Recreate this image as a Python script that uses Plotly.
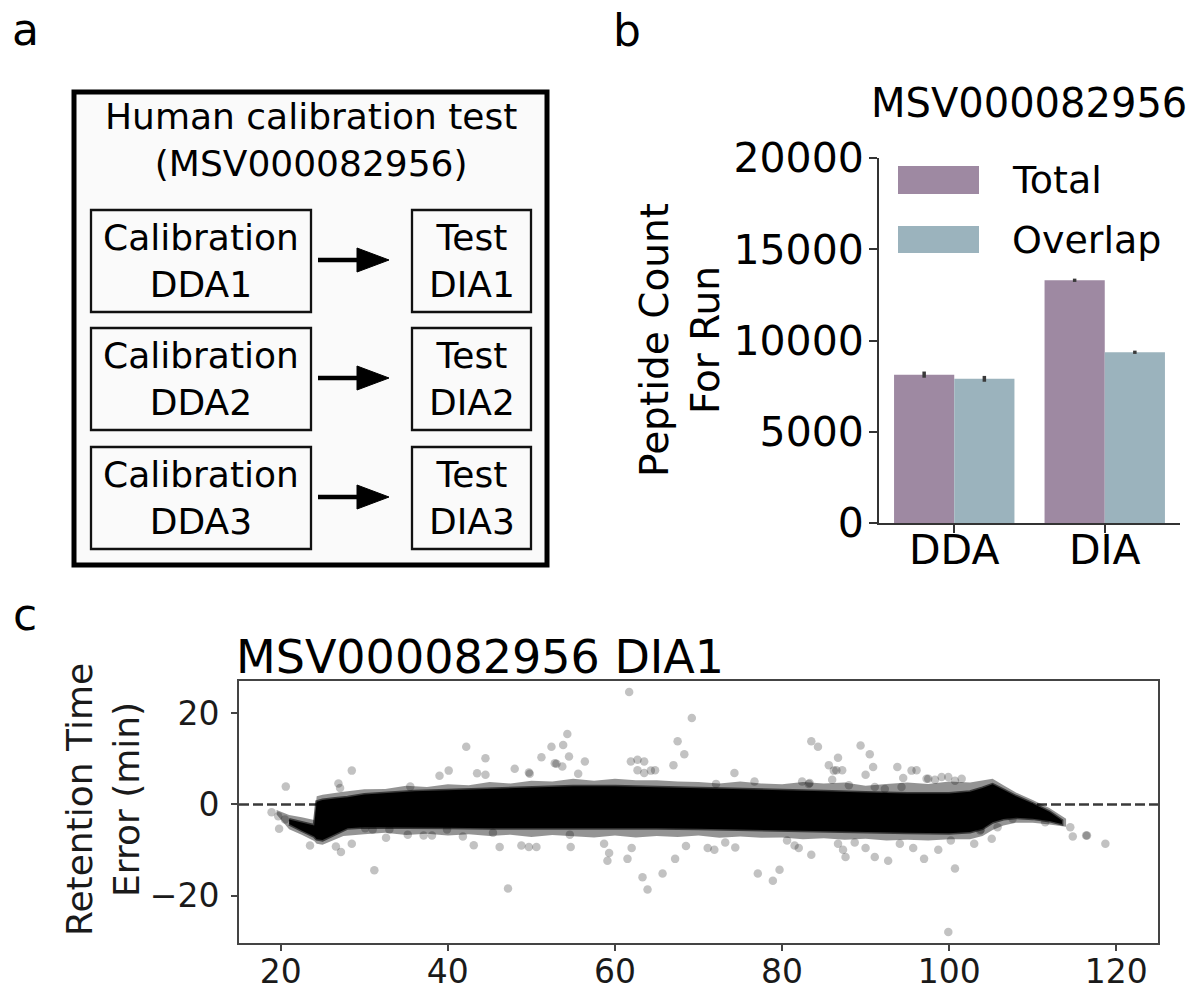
import plotly.graph_objects as go

W, H = 1198, 989
FONT = "DejaVu Sans"


def fx(p):
    return p / W


def fy(p):
    return 1 - p / H


# ---------------- data: panel b ----------------
categories = ["DDA", "DIA"]
total_counts = [8130, 13300]
total_err = [170, 90]
overlap_counts = [7900, 9355]
overlap_err = [160, 90]
y_ticks_b = [0, 5000, 10000, 15000, 20000]

# ---------------- data: panel c ----------------
x_ticks_c = [20, 40, 60, 80, 100, 120]
y_ticks_c = [-20, 0, 20]
y_ticklabels_c = ["\u221220", "0", "20"]
zero_ref = 0

# dense core of the point cloud (upper / lower envelope)
core_x = [21.0, 22.5, 24.0, 24.3, 25.0, 26.5, 28.0, 30.0, 33.0, 36.0, 40.0, 45.0, 50.0, 55.0,
          60.0, 65.0, 70.0, 75.0, 80.0, 85.0, 90.0, 95.0, 100.0, 102.5, 104.0, 105.2, 106.5,
          108.0, 110.0, 112.0, 113.5]
core_hi = [-3.3, -3.9, -4.6, 0.6, 1.0, 1.3, 1.6, 2.2, 2.6, 2.9, 3.1, 3.4, 3.8, 4.0,
           4.0, 3.8, 3.6, 3.4, 3.1, 2.9, 2.6, 2.4, 2.4, 2.8, 3.6, 4.4, 3.2,
           1.8, 0.2, -1.6, -3.5]
core_lo = [-4.3, -5.7, -7.0, -7.6, -7.8, -6.5, -5.2, -5.0, -5.0, -5.0, -5.1, -5.2, -5.3, -5.3,
           -5.2, -5.2, -5.3, -5.4, -5.6, -5.8, -6.0, -6.2, -6.3, -6.0, -5.3, -3.9, -3.2,
           -2.9, -3.1, -3.6, -4.3]

# semi-transparent, ragged fringe around the core
halo_x = [19.5, 21.0, 22.5, 24.0, 24.3, 25.0, 27.5, 30.0, 32.5, 35.0, 37.5, 40.0, 42.5, 45.0,
          47.5, 50.0, 52.5, 55.0, 57.5, 60.0, 62.5, 65.0, 67.5, 70.0, 72.5, 75.0, 77.5, 80.0,
          82.5, 85.0, 87.5, 90.0, 92.5, 95.0, 97.5, 100.0, 102.5, 104.0, 105.2, 106.5, 108.0,
          110.0, 112.0, 114.0]
halo_hi = [-1.2, -2.3, -2.8, -3.4, 1.8, 2.1, 2.8, 3.3, 3.4, 4.1, 3.8, 4.4, 4.2, 4.9,
           4.6, 5.2, 5.0, 5.6, 5.2, 5.6, 5.3, 5.3, 5.0, 4.9, 4.6, 5.0, 4.6, 4.4,
           4.9, 4.6, 4.8, 4.1, 4.5, 4.8, 4.5, 5.0, 4.8, 5.2, 5.6, 4.2, 2.6,
           1.0, -0.8, -3.1]
halo_lo = [-2.2, -5.4, -6.6, -8.0, -8.6, -8.8, -6.9, -6.5, -6.2, -6.7, -6.4, -6.8, -6.5, -6.9,
           -6.6, -7.1, -6.7, -6.9, -7.2, -6.8, -7.2, -6.9, -7.1, -6.8, -7.3, -7.0, -7.3, -7.2,
           -7.6, -7.4, -7.7, -7.5, -7.9, -7.7, -7.9, -7.6, -7.6, -6.9, -5.6, -4.6, -4.0,
           -4.0, -4.4, -4.9]

# isolated points
outlier_x = [18.9, 19.7, 20.5, 19.8, 20.6, 23.5, 26.6, 27.2, 28.5, 26.9, 27.1, 28.5, 30.1, 31.0,
             31.2, 32.6, 33.0, 35.2, 35.5, 37.1, 38.1, 39.0, 39.9, 40.1, 41.8, 42.2, 43.1, 43.5,
             44.5, 44.5, 45.4, 46.2, 47.2, 48.0, 48.8, 49.7, 49.7, 49.8, 50.6, 51.2, 52.4, 52.8,
             53.0, 53.7, 53.8, 54.3, 54.5, 54.6, 54.7, 55.6, 56.4,
             58.7, 59.1, 59.3, 61.5, 61.7, 61.9, 62.0, 62.7, 62.7, 63.3, 63.5, 63.5, 63.9, 64.3,
             64.8, 65.7, 67.0, 67.2, 67.5, 68.3, 68.5, 69.2, 71.1, 71.9, 72.1, 73.2, 74.3, 74.4,
             76.7, 77.1, 78.9, 79.7, 80.6, 81.5, 82.0, 82.4, 83.2, 83.3, 83.5, 83.5, 84.3, 85.6,
             86.0, 86.2, 86.5, 86.7, 86.7, 87.2, 87.3, 87.6, 88.0, 88.7, 89.4, 90.0, 90.0, 90.5,
             90.9, 91.1, 91.1, 92.3, 92.7, 93.8, 94.1, 94.3, 94.5, 95.5, 95.7, 96.1, 97.0, 97.3,
             97.5, 98.3, 98.7, 99.1, 99.9, 99.9, 100.2, 100.7, 100.7, 101.5, 103.0, 103.7, 103.8,
             105.1, 105.8, 107.6, 111.5, 114.5, 114.8, 116.4, 116.5, 118.7]
outlier_y = [-1.7, -2.6, -3.3, -5.3, 3.9, -9.0, -9.2, -10.4, -8.6, 4.6, 3.6, 7.4, -5.2, -5.5,
             -14.4, -7.3, -5.5, -6.6, 3.9, -6.8, -6.8, 6.3, -5.5, 7.4, -7.0, 12.6, -8.9, 6.8,
             6.5, 10.1, -6.2, -9.3, -18.4, 7.8, -9.0, 7.0, -9.3, 6.7, -9.3, 10.3, 12.6, 9.0,
             8.9, 8.3, 13.0, 15.4, 10.5, -6.6, -9.3, 6.7, 9.4,
             -8.6, -12.3, -10.6, -11.9, 24.6, 9.4, -9.5, 9.8, 7.5, -15.9, 9.4, 6.9, -18.6, 7.4,
             7.5, -15.1, 8.6, -11.9, 13.8, 11.0, -9.1, 18.9, -9.5, -9.9, 4.5, -8.3, 6.9, -9.4,
             5.0, -15.1, -16.7, -14.3, -7.9, -9.0, -9.5, 5.0, 4.5, 4.7, 13.8, -11.0, 12.6, 8.6,
             5.4, 7.4, 7.5, 10.2, -8.6, 7.5, -9.9, -11.5, 4.2, -8.3, 12.9, 6.5, -9.5, 11.0,
             8.2, -11.5, 3.8, 3.4, -12.3, 8.2, -8.6, 3.8, 5.8, 7.4, -9.5, 7.5, -11.9, 5.6,
             5.6, 5.4, -9.9, 6.0, 6.0, -27.9, -7.9, 5.2, -14.0, 5.6, -8.6, -5.7, -5.5,
             -7.5, -5.0, -3.1, -3.9, -5.0, -7.0, -6.8, -6.8, -8.6]

TOTAL_C = "#9e89a2"
OVERLAP_C = "#9bb3bd"

fig = go.Figure()

# ---------------- panel b bars ----------------
fig.add_trace(go.Bar(
    x=categories, y=total_counts, name="Total", marker=dict(color=TOTAL_C, line=dict(width=0)),
    error_y=dict(type="data", array=total_err, color="#3a3a3a", thickness=3.5, width=0),
    xaxis="x", yaxis="y", showlegend=False))
fig.add_trace(go.Bar(
    x=categories, y=overlap_counts, name="Overlap", marker=dict(color=OVERLAP_C, line=dict(width=0)),
    error_y=dict(type="data", array=overlap_err, color="#3a3a3a", thickness=3.5, width=0),
    xaxis="x", yaxis="y", showlegend=False))

# ---------------- panel c scatter ----------------
fig.add_trace(go.Scatter(
    x=outlier_x, y=outlier_y, mode="markers",
    marker=dict(color="rgba(0,0,0,0.24)", size=8.5, line=dict(width=0)),
    xaxis="x2", yaxis="y2", showlegend=False, hoverinfo="skip"))
fig.add_trace(go.Scatter(
    x=halo_x + halo_x[::-1], y=halo_hi + halo_lo[::-1], mode="lines", fill="toself",
    fillcolor="rgba(0,0,0,0.42)", line=dict(width=0, color="rgba(0,0,0,0)"),
    xaxis="x2", yaxis="y2", showlegend=False, hoverinfo="skip"))
fig.add_trace(go.Scatter(
    x=core_x + core_x[::-1], y=core_hi + core_lo[::-1], mode="lines", fill="toself",
    fillcolor="rgba(0,0,0,1)", line=dict(width=3, color="rgba(0,0,0,0.6)"),
    xaxis="x2", yaxis="y2", showlegend=False, hoverinfo="skip"))

shapes = []
annotations = []

# zero reference line in panel c
shapes.append(dict(type="line", xref="x2 domain", yref="y2", x0=0, x1=1, y0=zero_ref, y1=zero_ref,
                   line=dict(color="#3a3a3a", width=2.5, dash="10px,4px"), layer="below"))

# ---------------- panel a diagram ----------------
shapes.append(dict(type="rect", xref="paper", yref="paper",
                   x0=fx(74), x1=fx(547), y0=fy(92), y1=fy(565),
                   line=dict(color="black", width=5), fillcolor="#fafafa", layer="below"))

row_tops = [210, 328, 447]
row_h = 102
for i, top in enumerate(row_tops):
    n = i + 1
    for (x0, x1) in [(91, 311), (412, 531)]:
        shapes.append(dict(type="rect", xref="paper", yref="paper",
                           x0=fx(x0), x1=fx(x1), y0=fy(top), y1=fy(top + row_h),
                           line=dict(color="#111111", width=2.3), fillcolor="#fafafa", layer="below"))
    annotations.append(dict(x=fx(201), y=fy(top + row_h / 2), xref="paper", yref="paper",
                            text=f"Calibration<br>DDA{n}", showarrow=False, xanchor="center",
                            yanchor="middle", font=dict(family=FONT, size=36, color="black")))
    annotations.append(dict(x=fx(471.5), y=fy(top + row_h / 2), xref="paper", yref="paper",
                            text=f"Test<br>DIA{n}", showarrow=False, xanchor="center",
                            yanchor="middle", font=dict(family=FONT, size=36, color="black")))
    ay = top + 50
    shapes.append(dict(type="line", xref="paper", yref="paper",
                       x0=fx(318), x1=fx(362), y0=fy(ay), y1=fy(ay),
                       line=dict(color="black", width=4.5)))
    shapes.append(dict(type="path", xref="paper", yref="paper",
                       path=f"M {fx(357)},{fy(ay - 12)} L {fx(389)},{fy(ay)} L {fx(357)},{fy(ay + 12)} Z",
                       fillcolor="black", line=dict(color="black", width=1)))

annotations.append(dict(x=fx(310.5), y=fy(140.5), xref="paper", yref="paper",
                        text="Human calibration test<br>(MSV000082956)", showarrow=False,
                        xanchor="center", yanchor="middle",
                        font=dict(family=FONT, size=36, color="black")))

# panel letters
for letter, (lx, ly) in {"a": (25, 29), "b": (627, 31), "c": (25, 614)}.items():
    annotations.append(dict(x=fx(lx), y=fy(ly), xref="paper", yref="paper", text=letter,
                            showarrow=False, xanchor="center", yanchor="middle",
                            font=dict(family=FONT, size=44, color="black")))

# ---------------- panel b titles / legend ----------------
annotations.append(dict(x=fx(1029), y=fy(103), xref="paper", yref="paper", text="MSV000082956",
                        showarrow=False, xanchor="center", yanchor="middle",
                        font=dict(family=FONT, size=40, color="black")))
annotations.append(dict(x=fx(680), y=fy(340), xref="paper", yref="paper",
                        text="Peptide Count<br>For Run", textangle=-90, showarrow=False,
                        xanchor="center", yanchor="middle",
                        font=dict(family=FONT, size=39, color="black")))
for name, col, (t, b) in [("Total", TOTAL_C, (166, 194)), ("Overlap", OVERLAP_C, (226, 253))]:
    shapes.append(dict(type="rect", xref="paper", yref="paper", x0=fx(898), x1=fx(979),
                       y0=fy(t), y1=fy(b), fillcolor=col, line=dict(width=0)))
    annotations.append(dict(x=fx(1010), y=fy((t + b) / 2), xref="paper", yref="paper", text=name,
                            showarrow=False, xanchor="left", yanchor="middle",
                            font=dict(family=FONT, size=38, color="black")))

# ---------------- panel c titles ----------------
annotations.append(dict(x=fx(234), y=fy(657), xref="paper", yref="paper", text="MSV000082956 DIA1",
                        showarrow=False, xanchor="left", yanchor="middle",
                        font=dict(family=FONT, size=46, color="black")))
annotations.append(dict(x=fx(103), y=fy(800), xref="paper", yref="paper",
                        text="Retention Time<br>Error (min)", textangle=-90, showarrow=False,
                        xanchor="center", yanchor="middle",
                        font=dict(family=FONT, size=36, color="#1a1a1a")))

fig.update_layout(
    width=W, height=H, autosize=False,
    margin=dict(l=0, r=0, t=0, b=0, pad=0, autoexpand=False),
    paper_bgcolor="white", plot_bgcolor="rgba(0,0,0,0)",
    barmode="group", bargap=0.2, bargroupgap=0,
    showlegend=False,
    shapes=shapes, annotations=annotations,
    font=dict(family=FONT, color="black"),
    xaxis=dict(domain=[fx(879), fx(1180)], range=[-0.5, 1.5], anchor="y", automargin=False,
               showline=True, linecolor="#333333", linewidth=1.8, showgrid=False, zeroline=False,
               ticks="outside", ticklen=8, tickwidth=1.5, tickcolor="#333333",
               tickfont=dict(family=FONT, size=41, color="black"), ticklabelstandoff=-18),
    yaxis=dict(domain=[fy(523), fy(158)], range=[0, 20000], anchor="x", automargin=False,
               showline=True, linecolor="#333333", linewidth=1.8, showgrid=False, zeroline=False,
               ticks="outside", ticklen=8, tickwidth=1.5, tickcolor="#333333",
               tickvals=y_ticks_b, ticktext=[str(v) for v in y_ticks_b],
               tickfont=dict(family=FONT, size=41, color="black"), ticklabelstandoff=-3),
    xaxis2=dict(domain=[fx(239), fx(1158)], range=[15, 125], anchor="y2", automargin=False,
                showline=True, mirror=True, linecolor="#444444", linewidth=1.8,
                showgrid=False, zeroline=False,
                ticks="outside", ticklen=6, tickwidth=1.5, tickcolor="#444444",
                tickvals=x_ticks_c, ticktext=[str(v) for v in x_ticks_c],
                tickfont=dict(family=FONT, size=33, color="#1a1a1a"), ticklabelstandoff=-8),
    yaxis2=dict(domain=[fy(943), fy(681)], range=[-30.3, 27], anchor="x2", automargin=False,
                showline=True, mirror=True, linecolor="#444444", linewidth=1.8,
                showgrid=False, zeroline=False,
                ticks="outside", ticklen=6, tickwidth=1.5, tickcolor="#444444",
                tickvals=y_ticks_c, ticktext=y_ticklabels_c,
                tickfont=dict(family=FONT, size=33, color="#1a1a1a"), ticklabelstandoff=5),
)

fig.write_html("out.html")
